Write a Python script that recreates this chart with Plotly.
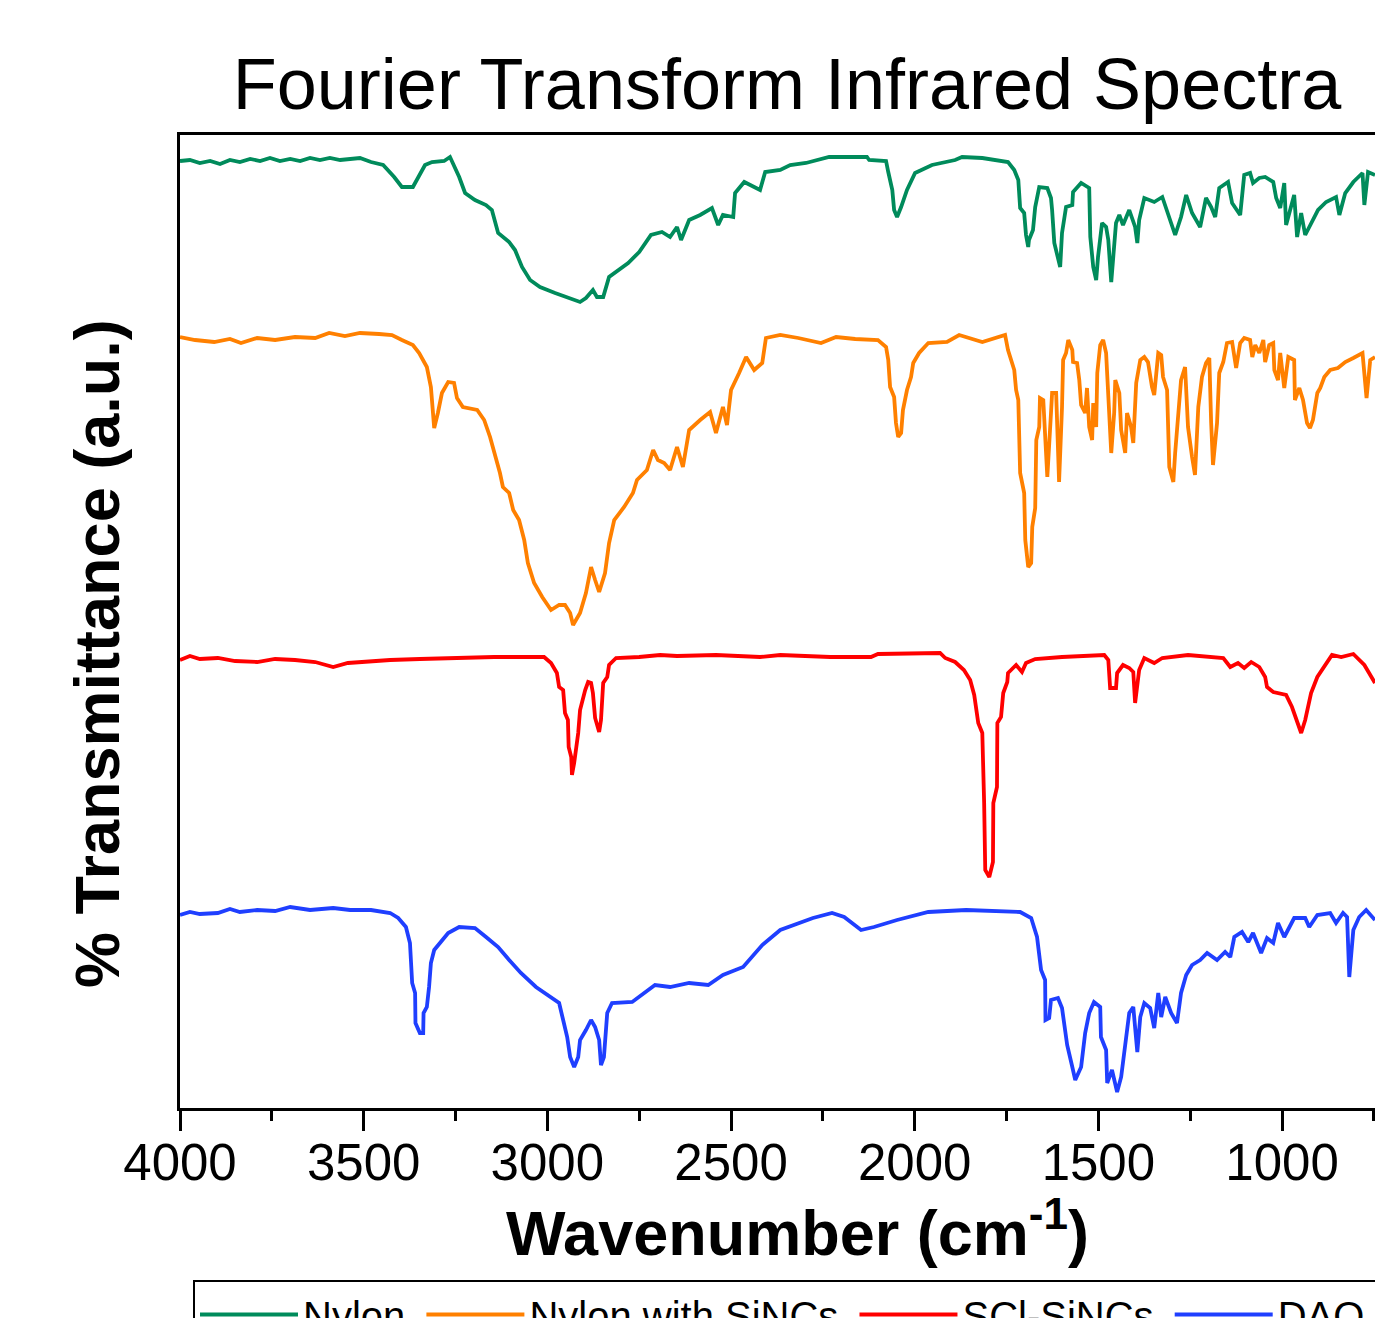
import plotly.graph_objects as go

# ---------------- data (wavenumber cm^-1, offset % transmittance a.u.) ----------------
nylon_wn = [4000, 3973, 3946, 3918, 3891, 3864, 3837, 3809, 3782, 3755, 3728, 3700, 3673, 3646, 3619, 3592, 3564, 3510,
            3480, 3447, 3417, 3396, 3366, 3355, 3333, 3314, 3281, 3265, 3254, 3240, 3224, 3197, 3167, 3151, 3134, 3104,
            3088, 3069, 3047, 3020, 2979, 2949, 2911, 2895, 2876, 2865, 2848, 2832, 2813, 2780, 2750, 2718, 2688, 2666,
            2647, 2636, 2614, 2584, 2552, 2535, 2522, 2494, 2489, 2464, 2437, 2421, 2407, 2366, 2339, 2296, 2233, 2130,
            2124, 2078, 2072, 2061, 2056, 2048, 2037, 2021, 1999, 1953, 1890, 1871, 1816, 1746, 1729, 1718, 1713, 1702,
            1697, 1691, 1689, 1678, 1672, 1661, 1639, 1629, 1626, 1620, 1604, 1599, 1588, 1571, 1569, 1547, 1525, 1522,
            1514, 1506, 1501, 1490, 1479, 1473, 1465, 1457, 1452, 1443, 1433, 1416, 1400, 1394, 1389, 1375, 1348, 1326,
            1307, 1291, 1275, 1261, 1245, 1223, 1207, 1193, 1182, 1171, 1147, 1136, 1114, 1103, 1087, 1079, 1062, 1046,
            1024, 1016, 1005, 994, 989, 967, 959, 948, 937, 921, 902, 880, 853, 844, 828, 806, 781, 776, 766, 747]
nylon_t = [94.7, 94.8, 94.5, 94.7, 94.4, 94.8, 94.6, 94.9, 94.7, 95.0, 94.7, 94.9, 94.7, 95.0, 94.8, 95.0, 94.8, 95.0,
           94.6, 94.3, 93.1, 92.1, 92.1, 92.8, 94.3, 94.6, 94.7, 95.1, 94.3, 93.1, 91.5, 90.8, 90.3, 89.8, 87.5, 86.6,
           85.8, 84.1, 82.8, 82.1, 81.5, 81.1, 80.6, 81.0, 81.8, 81.1, 81.1, 83.1, 83.6, 84.5, 85.6, 87.3, 87.6, 87.1,
           88.1, 86.8, 88.8, 89.3, 90.0, 88.3, 89.3, 89.1, 91.5, 92.6, 92.1, 91.8, 93.6, 93.8, 94.3, 94.5, 95.1, 95.1,
           94.8, 94.7, 93.6, 91.8, 89.8, 89.1, 90.1, 91.8, 93.5, 94.3, 94.8, 95.1, 95.0, 94.6, 93.8, 92.8, 90.0, 89.5,
           87.3, 86.1, 86.8, 87.8, 90.1, 92.1, 92.0, 91.0, 89.8, 86.5, 84.1, 87.5, 90.1, 90.3, 91.6, 92.5, 92.0, 87.1,
           84.1, 82.8, 85.1, 88.5, 88.1, 86.8, 82.6, 86.8, 88.5, 89.3, 88.3, 89.8, 88.1, 86.5, 88.8, 91.0, 90.6, 91.1,
           89.1, 87.3, 89.1, 91.3, 89.5, 88.1, 91.0, 90.1, 89.1, 92.0, 92.6, 90.5, 89.3, 93.3, 93.5, 92.5, 93.0, 93.1,
           92.6, 91.0, 90.0, 92.5, 88.3, 91.3, 87.1, 89.5, 87.3, 88.5, 89.8, 90.6, 91.1, 89.3, 91.5, 92.6, 93.5, 90.3,
           93.6, 93.3]

sincs_wn = [4000, 3959, 3907, 3864, 3834, 3790, 3741, 3687, 3632, 3594, 3551, 3510, 3458, 3423, 3396, 3366, 3349, 3328,
            3317, 3311, 3308, 3298, 3287, 3270, 3254, 3246, 3230, 3191, 3172, 3156, 3140, 3129, 3121, 3104, 3093, 3077,
            3063, 3053, 3036, 3014, 2990, 2968, 2952, 2938, 2930, 2911, 2895, 2881, 2870, 2859, 2843, 2832, 2818, 2791,
            2767, 2756, 2729, 2712, 2699, 2682, 2666, 2647, 2631, 2614, 2584, 2557, 2541, 2522, 2511, 2500, 2478, 2459,
            2437, 2415, 2405, 2366, 2317, 2255, 2214, 2162, 2100, 2078, 2072, 2067, 2056, 2051, 2045, 2037, 2032, 2021,
            2010, 2004, 1988, 1963, 1912, 1879, 1816, 1754, 1746, 1729, 1724, 1718, 1713, 1702, 1699, 1691, 1683, 1680,
            1672, 1669, 1661, 1659, 1650, 1645, 1639, 1629, 1626, 1615, 1607, 1599, 1596, 1588, 1582, 1571, 1569, 1558,
            1552, 1547, 1536, 1531, 1525, 1517, 1514, 1506, 1503, 1495, 1487, 1479, 1473, 1465, 1457, 1454, 1443, 1438,
            1427, 1422, 1411, 1405, 1397, 1386, 1375, 1365, 1354, 1348, 1337, 1329, 1324, 1313, 1307, 1296, 1291, 1286,
            1275, 1264, 1256, 1245, 1237, 1228, 1218, 1207, 1198, 1193, 1188, 1177, 1171, 1160, 1150, 1136, 1125, 1114,
            1103, 1087, 1081, 1073, 1062, 1051, 1046, 1035, 1024, 1021, 1011, 1005, 994, 983, 967, 965, 953, 943, 932,
            924, 916, 904, 896, 885, 869, 848, 828, 806, 781, 770, 760, 747]
sincs_t = [77.1, 76.8, 76.6, 76.9, 76.5, 77.0, 76.8, 77.1, 77.0, 77.5, 77.2, 77.5, 77.4, 77.3, 76.8, 76.3, 75.5, 74.1,
           72.1, 69.1, 68.0, 69.5, 71.5, 72.6, 72.5, 71.0, 70.1, 69.8, 68.8, 67.1, 65.1, 63.5, 62.1, 61.5, 59.8, 58.8,
           56.8, 54.5, 52.5, 51.1, 49.8, 50.3, 50.3, 49.5, 48.3, 49.5, 51.5, 54.1, 52.8, 51.6, 53.5, 56.5, 58.8, 60.1,
           61.5, 62.8, 63.8, 65.8, 64.8, 64.5, 63.8, 66.1, 64.1, 67.8, 68.8, 69.6, 67.5, 70.1, 68.3, 71.8, 73.5, 75.1,
           73.8, 74.5, 77.0, 77.3, 77.0, 76.5, 77.1, 76.9, 76.8, 76.1, 74.8, 72.1, 71.1, 68.5, 67.1, 67.5, 69.8, 71.8,
           73.1, 74.5, 75.5, 76.5, 76.6, 77.3, 76.6, 77.3, 75.8, 73.8, 71.8, 70.8, 63.5, 61.5, 56.8, 54.1, 54.5, 58.1,
           60.0, 66.8, 68.1, 71.0, 70.8, 67.5, 63.1, 69.5, 71.5, 71.5, 62.6, 70.1, 74.8, 75.5, 76.8, 75.8, 74.6, 74.5,
           72.8, 70.3, 69.5, 72.0, 68.1, 66.8, 70.5, 68.1, 73.5, 76.3, 76.8, 75.5, 70.5, 65.5, 69.5, 72.8, 71.5, 67.8,
           65.5, 69.5, 68.1, 66.5, 72.5, 74.8, 75.1, 74.6, 72.1, 71.3, 75.5, 75.3, 73.1, 71.8, 64.1, 62.6, 65.5, 68.1,
           72.8, 74.1, 68.1, 65.1, 63.3, 70.1, 73.1, 74.5, 75.0, 68.5, 64.3, 68.5, 73.5, 74.6, 76.5, 76.6, 74.0, 76.5,
           77.0, 76.8, 75.1, 76.3, 75.5, 76.8, 74.6, 76.3, 76.5, 73.8, 72.8, 75.5, 72.0, 75.1, 74.8, 70.8, 72.0, 70.8, 68.5,
           68.0, 68.8, 71.5, 72.0, 73.1, 73.8, 74.0, 74.6, 75.0, 75.5, 71.0, 74.8, 75.1]

scl_wn = [4000, 3973, 3946, 3897, 3850, 3790, 3741, 3687, 3632, 3583, 3543, 3483, 3428, 3347, 3270, 3210, 3145, 3063,
          3009, 2990, 2974, 2968, 2957, 2952, 2944, 2942, 2935, 2933, 2927, 2916, 2911, 2897, 2889, 2881, 2876, 2870,
          2859, 2854, 2848, 2837, 2832, 2813, 2750, 2693, 2647, 2541, 2421, 2366, 2230, 2119, 2100, 1931, 1917, 1890,
          1866, 1849, 1838, 1827, 1816, 1811, 1808, 1797, 1787, 1786, 1776, 1775, 1765, 1759, 1748, 1746, 1724, 1708,
          1697, 1672, 1599, 1484, 1473, 1468, 1452, 1449, 1433, 1416, 1405, 1400, 1394, 1389, 1375, 1348, 1326, 1256,
          1160, 1141, 1120, 1103, 1084, 1062, 1046, 1041, 1024, 989, 973, 959, 948, 937, 921, 904, 891, 864, 839, 806,
          776, 747]
scl_t = [44.8, 45.2, 44.9, 45.0, 44.7, 44.6, 44.9, 44.8, 44.6, 44.1, 44.5, 44.7, 44.8, 44.9, 45.0, 45.0, 45.1, 45.1,
         45.1, 44.5, 43.5, 42.1, 41.8, 39.5, 38.8, 36.1, 35.1, 33.3, 34.5, 37.5, 39.8, 41.8, 42.6, 42.5, 41.5, 39.0,
         37.6, 38.8, 42.5, 43.1, 44.3, 45.0, 45.1, 45.3, 45.2, 45.3, 45.1, 45.3, 45.1, 45.1, 45.4, 45.5, 45.0, 44.6,
         43.8, 42.8, 41.3, 38.5, 37.5, 30.5, 23.8, 23.1, 24.6, 30.5, 32.1, 38.5, 39.1, 41.5, 42.6, 43.5, 44.3, 43.6,
         44.5, 44.9, 45.1, 45.3, 44.8, 42.0, 42.0, 43.5, 44.3, 44.0, 43.6, 40.5, 42.5, 43.8, 45.0, 44.5, 45.0, 45.3,
         45.0, 44.1, 44.5, 44.0, 44.6, 44.1, 43.1, 42.1, 41.6, 41.3, 40.1, 38.5, 37.5, 38.8, 41.5, 43.1, 43.8, 45.3,
         45.1, 45.4, 44.3, 42.5]

daq_wn = [4000, 3973, 3946, 3897, 3864, 3837, 3790, 3741, 3700, 3646, 3583, 3537, 3480, 3428, 3406, 3385, 3374, 3368,
          3360, 3359, 3347, 3338, 3337, 3328, 3322, 3317, 3308, 3292, 3270, 3240, 3197, 3167, 3134, 3104, 3072, 3031,
          2990, 2968, 2957, 2946, 2938, 2927, 2916, 2911, 2895, 2881, 2870, 2859, 2854, 2846, 2837, 2824, 2769, 2750,
          2707, 2666, 2614, 2562, 2522, 2467, 2415, 2366, 2328, 2277, 2225, 2192, 2146, 2111, 2048, 1963, 1860, 1713,
          1683, 1667, 1656, 1645, 1644, 1634, 1629, 1610, 1599, 1585, 1571, 1563, 1547, 1536, 1525, 1512, 1495, 1493,
          1479, 1476, 1463, 1457, 1449, 1438, 1427, 1416, 1405, 1394, 1386, 1375, 1359, 1348, 1337, 1329, 1318, 1302,
          1286, 1275, 1261, 1245, 1223, 1204, 1177, 1155, 1141, 1130, 1109, 1092, 1079, 1057, 1041, 1024, 1011, 994,
          967, 937, 926, 904, 869, 853, 834, 823, 817, 806, 790, 771, 747]
daq_t = [19.3, 19.6, 19.4, 19.5, 19.9, 19.6, 19.8, 19.7, 20.1, 19.8, 20.0, 19.8, 19.8, 19.5, 19.0, 18.1, 16.5, 12.5,
         11.5, 8.5, 7.5, 7.5, 9.5, 10.1, 12.1, 14.5, 15.8, 16.5, 17.5, 18.1, 18.0, 17.1, 16.1, 14.8, 13.5, 12.1,
         11.1, 10.5, 8.8, 7.1, 5.1, 4.1, 5.1, 6.8, 7.8, 8.8, 8.1, 6.8, 4.3, 5.1, 9.5, 10.5, 10.6, 11.1,
         12.3, 12.1, 12.5, 12.3, 13.3, 14.1, 16.3, 17.8, 18.3, 19.0, 19.5, 19.1, 17.8, 18.1, 18.8, 19.6, 19.8, 19.6,
         19.0, 17.1, 13.8, 12.8, 8.8, 9.0, 10.8, 11.0, 10.0, 6.3, 4.1, 2.8, 4.1, 7.5, 9.5, 10.6, 10.1, 7.1,
         5.8, 2.5, 3.8, 2.8, 1.6, 3.1, 6.5, 9.5, 10.1, 5.6, 9.1, 10.5, 10.0, 8.0, 11.5, 9.1, 11.1, 9.5,
         8.5, 11.5, 13.3, 14.3, 14.8, 15.5, 14.8, 15.6, 15.1, 17.1, 17.6, 16.6, 17.5, 15.5, 17.0, 16.5, 18.5, 17.1,
         19.0, 19.0, 18.1, 19.3, 19.5, 18.5, 19.5, 19.1, 13.1, 17.8, 19.1, 19.8, 18.8]

series_names = ["Nylon", "Nylon with SiNCs", "SCl-SiNCs", "DAQ"]
series_colors = ["#008B5B", "#FF8000", "#FF0000", "#1F3FFF"]
x_ticks = [4000, 3500, 3000, 2500, 2000, 1500, 1000]

FONT = "Liberation Sans, Arial, sans-serif"

W, H = 1375, 1318
L, R, T, B = 180, 0, 135, 210
PW, PH = W - L - R, H - T - B

fig = go.Figure()
for name, wn, t, col in zip(series_names, [nylon_wn, sincs_wn, scl_wn, daq_wn],
                            [nylon_t, sincs_t, scl_t, daq_t], series_colors):
    fig.add_trace(go.Scatter(x=wn, y=t, mode="lines", name=name + "\u00a0",
                             line=dict(color=col, width=3.8)))

fig.update_layout(
    width=W, height=H,
    margin=dict(l=L, r=R, t=T, b=B, autoexpand=False),
    paper_bgcolor="white", plot_bgcolor="white",
    font=dict(family=FONT, color="black"),
    title=dict(text="Fourier Transform Infrared Spectra", x=787 / W, xref="container", xanchor="center",
               y=1 - 84 / H, yref="container", yanchor="middle", font=dict(size=72, family=FONT, color="black")),
    showlegend=True,
    legend=dict(orientation="h", x=(193 - L) / PW, y=-(1280 - (H - B)) / PH, xanchor="left", yanchor="top",
                xref="paper", yref="paper",
                bordercolor="black", borderwidth=2, bgcolor="white",
                font=dict(size=40, family=FONT, color="black"), itemwidth=98, traceorder="normal"),
    annotations=[
        dict(text="<b>% Transmittance (a.u.)</b>", textangle=-90, x=(97 - L) / PW, y=((H - B) - 654) / PH,
             xref="paper", yref="paper", xanchor="center", yanchor="middle", showarrow=False,
             font=dict(size=63, family=FONT, color="black")),
        dict(text="<b>Wavenumber (cm<sup>-1</sup>)</b>", x=(797 - L) / PW, y=-(1228 - (H - B)) / PH,
             xref="paper", yref="paper", xanchor="center", yanchor="middle", showarrow=False,
             font=dict(size=63, family=FONT, color="black")),
    ],
)

fig.update_xaxes(
    range=[4000, 747], tickmode="array", tickvals=x_ticks, ticktext=[str(v) for v in x_ticks],
    ticks="outside", ticklen=20, tickwidth=3, tickcolor="black",
    minor=dict(dtick=250, tick0=0, ticks="outside", ticklen=10, tickwidth=3, tickcolor="black"),
    showline=True, linewidth=3, linecolor="black", mirror=True,
    showgrid=False, zeroline=False,
    tickfont=dict(size=51, family=FONT, color="black"),
)
try:
    fig.update_xaxes(ticklabelstandoff=-12)
except Exception:
    pass
fig.update_yaxes(
    range=[0, 97.3], showticklabels=False, ticks="", showgrid=False, zeroline=False,
    showline=True, linewidth=3, linecolor="black", mirror=False,
)

# remove the default 8 px page margin so the figure fills the window exactly
fig.write_html("out.html", config={"displayModeBar": False},
               post_script="document.body.style.margin='0';document.body.style.overflow='hidden';")
